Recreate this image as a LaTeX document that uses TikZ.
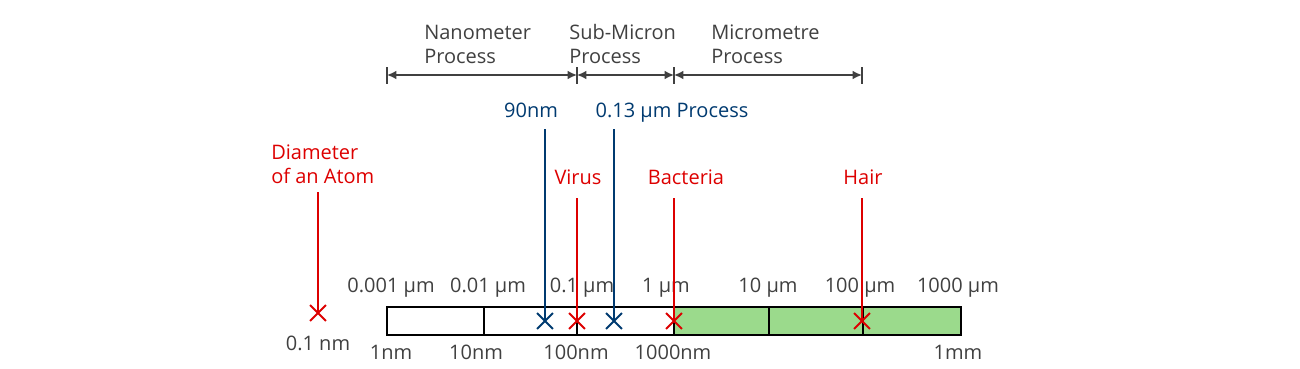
\documentclass[tikz,border=0pt]{standalone}
\usepackage{fontspec}
\setmainfont{Open Sans}
\usetikzlibrary{arrows.meta,shapes.misc}
\definecolor{markred}{RGB}{221,0,0}
\definecolor{procblue}{RGB}{0,58,112}
\definecolor{textgray}{RGB}{64,64,64}
\definecolor{barfill}{RGB}{155,218,140}
\begin{document}
\begin{tikzpicture}[x=0.75pt,y=-0.75pt,>={Latex[length=7pt,width=6.5pt]},
    every node/.style={font=\fontsize{15}{18}\selectfont,inner sep=0pt},
    lbl/.style={text=textgray},
    redlbl/.style={text=markred},
    bluelbl/.style={text=procblue},
    xmark/.style={cross out,draw,minimum size=10.5pt,line width=1.4pt},
    pointer/.style={line width=1.4pt}]
\useasboundingbox (0,0) rectangle (1300,368);

% process ranges
\foreach \x [count=\i] in {387,577,674,862}{
  \coordinate (t\i) at (\x,75);
  \draw[textgray,line width=1.6pt] (\x,67) -- (\x,84);
}
\draw[<->,textgray,line width=1.2pt] (t1) -- (t2);
\draw[<->,textgray,line width=1.2pt] (t2) -- (t3);
\draw[<->,textgray,line width=1.2pt] (t3) -- (t4);
\node[lbl,align=left,anchor=south west] (nano) at (424,64) {Nanometer\\Process};
\node[lbl,align=left,anchor=south west] (submicron) at (569,64) {Sub-Micron\\Process};
\node[lbl,align=left,anchor=south west] (micro) at (711,64) {Micrometre\\Process};

% the scale
\fill[barfill] (674,307) rectangle (961,335);
\foreach \x in {484,577,674,769,863}
  \draw[line width=1.3pt] (\x,307) -- (\x,335);
\draw[line width=1.5pt] (387,307) rectangle (961,335);
\foreach \x/\t [count=\i] in {391/0.001,488/0.01,582/0.1,666/1,768/10,860/100,958/1000}
  \node[lbl,anchor=base] (um\i) at (\x,292) {\t~µm};
\foreach \x/\t [count=\i] in {391/1nm,476/10nm,576/100nm,673/1000nm,958/1mm}
  \node[lbl,anchor=base] (nm\i) at (\x,359) {\t};

% marks
\node[xmark,markred] (xatom) at (318,313) {};
\node[lbl,anchor=base] (atomsize) at (318,350) {0.1 nm};
\node[xmark,procblue] (x90) at (545,321) {};
\node[xmark,markred] (xvirus) at (577,321) {};
\node[xmark,procblue] (x013) at (614,321) {};
\node[xmark,markred] (xbact) at (674,321) {};
\node[xmark,markred] (xhair) at (862,321) {};

\node[redlbl,align=left,anchor=south west] (atom) at (271,184) {Diameter\\of an Atom};
\node[redlbl,anchor=base] (virus) at (578,184) {Virus};
\node[redlbl,anchor=base] (bact) at (686,184) {Bacteria};
\node[redlbl,anchor=base] (hair) at (863,184) {Hair};
\node[bluelbl,anchor=base] (p90) at (531,117) {90nm};
\node[bluelbl,anchor=base] (p013) at (672,117) {0.13 µm Process};

\draw[pointer,markred,shorten <=6pt] (atom.south -| xatom) -- (xatom.center);
\draw[pointer,markred,shorten <=10.5pt] (virus.base -| xvirus) -- (xvirus.center);
\draw[pointer,markred,shorten <=10.5pt] (bact.base -| xbact) -- (xbact.center);
\draw[pointer,markred,shorten <=10.5pt] (hair.base -| xhair) -- (xhair.center);
\draw[pointer,procblue,shorten <=9pt] (p90.base -| x90) -- (x90.center);
\draw[pointer,procblue,shorten <=9pt] (p013.base -| x013) -- (x013.center);
\end{tikzpicture}
\end{document}
